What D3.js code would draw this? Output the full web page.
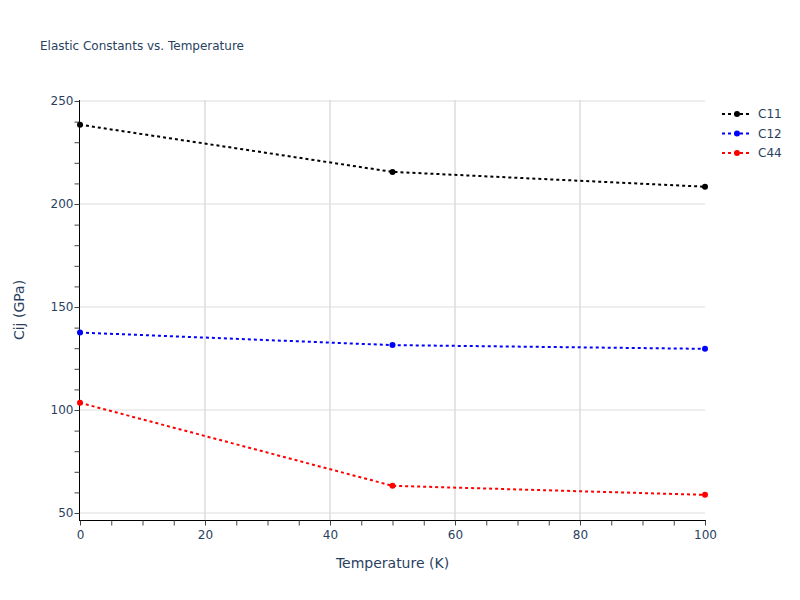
<!DOCTYPE html>
<html>
<head>
<meta charset="utf-8">
<script src="https://cdn.jsdelivr.net/npm/d3@7"></script>
<style>
  body { margin: 0; background: #fff; }
  text { font-family: "DejaVu Sans", verdana, arial, sans-serif; }
</style>
</head>
<body>
<script>
// data
var temps = [0, 50, 100];
var seriesNames = ["C11", "C12", "C44"];
var seriesColors = ["black", "blue", "red"];
var c11 = [238.5, 215.6, 208.4];
var c12 = [137.6, 131.5, 129.7];
var c44 = [103.5, 63.2, 58.8];
var xTicks = [0, 20, 40, 60, 80, 100];
var yTicks = [50, 100, 150, 200, 250];

var width = 800, height = 600;
var plotLeft = 80, plotRight = 705, plotTop = 100, plotBottom = 520;
var ink = "#2a3f5f";

var svg = d3.select("body").append("svg")
    .attr("width", width)
    .attr("height", height);

var x = d3.scaleLinear().domain([0, 100]).range([plotLeft, plotRight]);
var y = d3.scaleLinear().domain([46.6, 250.5]).range([plotBottom, plotTop]);

// grid
svg.append("g").selectAll("line")
    .data(xTicks.slice(1, -1))
    .enter().append("line")
    .attr("x1", function(d) { return x(d); })
    .attr("x2", function(d) { return x(d); })
    .attr("y1", plotTop)
    .attr("y2", plotBottom)
    .attr("stroke", "#e5e5e5")
    .attr("stroke-width", 2);

svg.append("g").selectAll("line")
    .data(yTicks)
    .enter().append("line")
    .attr("x1", plotLeft)
    .attr("x2", plotRight)
    .attr("y1", function(d) { return y(d); })
    .attr("y2", function(d) { return y(d); })
    .attr("stroke", "#dcdcdc")
    .attr("stroke-width", 1);

// axes
var xAxis = svg.append("g")
    .attr("transform", "translate(0," + (plotBottom + 0.5) + ")")
    .call(d3.axisBottom(x).tickValues(d3.range(0, 101, 5)).tickSize(5).tickFormat(function(d) {
        return xTicks.indexOf(d) >= 0 ? d : "";
    }));
xAxis.select(".domain").attr("stroke", "black").attr("d", "M" + (plotLeft - 1) + ",0H" + (plotRight + 1));
xAxis.selectAll(".tick line").attr("stroke", "#444");
xAxis.selectAll(".tick text").attr("fill", ink).style("font-size", "12px").attr("y", 10);

var yAxis = svg.append("g")
    .attr("transform", "translate(" + (plotLeft - 0.5) + ",0)")
    .call(d3.axisLeft(y).tickValues(d3.range(50, 251, 10)).tickSize(5).tickFormat(function(d) {
        return yTicks.indexOf(d) >= 0 ? d : "";
    }));
yAxis.select(".domain").attr("stroke", "black").attr("d", "M0," + plotTop + "V" + (plotBottom + 1));
yAxis.selectAll(".tick line").attr("stroke", "#444");
yAxis.selectAll(".tick text").attr("fill", ink).style("font-size", "12px").attr("x", -6);

// series
var allSeries = [c11, c12, c44];
var line = d3.line()
    .x(function(d, i) { return x(temps[i]); })
    .y(function(d) { return y(d); });

allSeries.forEach(function(vals, k) {
    svg.append("path")
        .datum(vals)
        .attr("d", line)
        .attr("fill", "none")
        .attr("stroke", seriesColors[k])
        .attr("stroke-width", 2)
        .attr("stroke-dasharray", "3,3");
    svg.append("g").selectAll("circle")
        .data(vals)
        .enter().append("circle")
        .attr("cx", function(d, i) { return x(temps[i]); })
        .attr("cy", function(d) { return y(d); })
        .attr("r", 3)
        .attr("fill", seriesColors[k]);
});

// legend
var legend = svg.append("g");
seriesNames.forEach(function(name, k) {
    var ly = 114 + k * 19.5;
    legend.append("line")
        .attr("x1", 722).attr("x2", 752)
        .attr("y1", ly).attr("y2", ly)
        .attr("stroke", seriesColors[k])
        .attr("stroke-width", 2)
        .attr("stroke-dasharray", "3,3");
    legend.append("circle")
        .attr("cx", 737).attr("cy", ly).attr("r", 3)
        .attr("fill", seriesColors[k]);
    legend.append("text")
        .attr("x", 758).attr("y", ly + 4)
        .attr("fill", ink)
        .style("font-size", "12px")
        .text(name);
});

// titles
svg.append("text")
    .attr("x", 40).attr("y", 50)
    .attr("fill", ink)
    .style("font-size", "12px")
    .text("Elastic Constants vs. Temperature");

svg.append("text")
    .attr("x", (plotLeft + plotRight) / 2).attr("y", 568)
    .attr("text-anchor", "middle")
    .attr("fill", ink)
    .style("font-size", "14px")
    .text("Temperature (K)");

svg.append("text")
    .attr("transform", "translate(24," + ((plotTop + plotBottom) / 2) + ") rotate(-90)")
    .attr("text-anchor", "middle")
    .attr("fill", ink)
    .style("font-size", "14px")
    .text("Cij (GPa)");
</script>
</body>
</html>
